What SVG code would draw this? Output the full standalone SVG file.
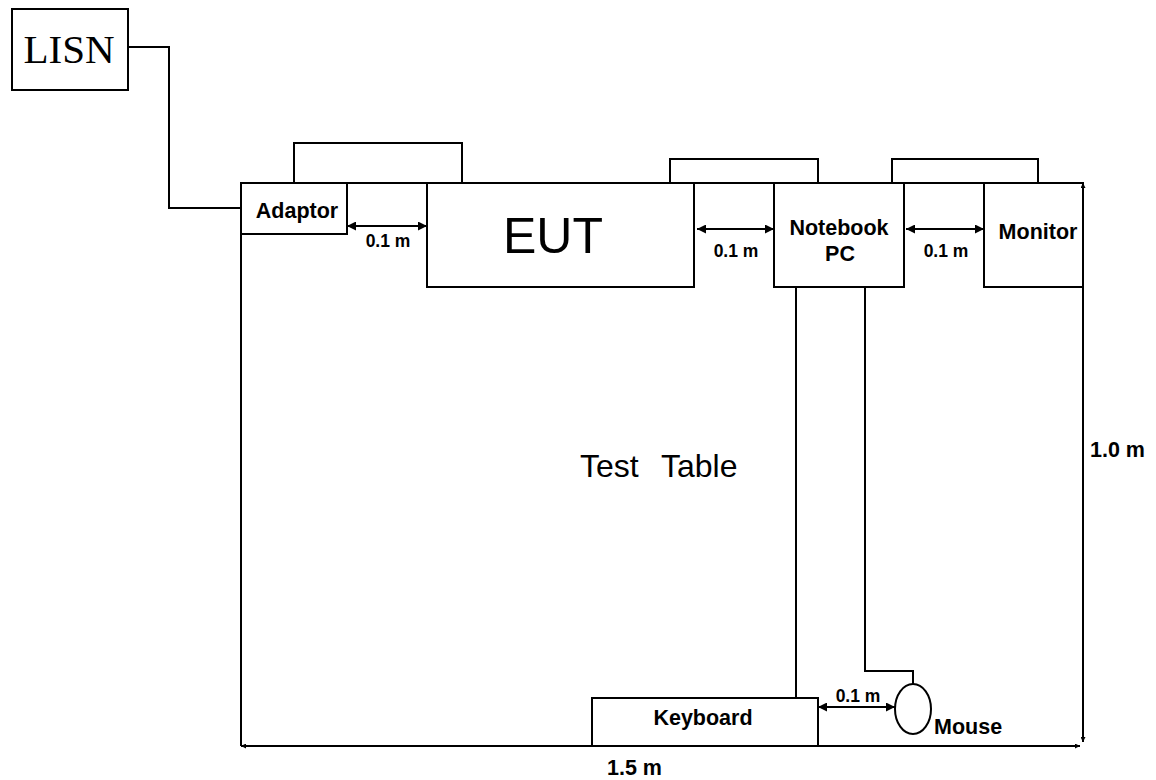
<svg xmlns="http://www.w3.org/2000/svg" width="1156" height="780" viewBox="0 0 1156 780">
<defs>
<marker id="ah" viewBox="0 0 10 10" refX="10" refY="5" markerWidth="10" markerHeight="9" markerUnits="userSpaceOnUse" orient="auto-start-reverse"><path d="M0,0 L10,5 L0,10 z" fill="#000"/></marker>
<marker id="sm" viewBox="0 0 10 10" refX="10" refY="5" markerWidth="5" markerHeight="5" markerUnits="userSpaceOnUse" orient="auto-start-reverse"><path d="M0,0 L10,5 L0,10 z" fill="#000"/></marker>
<style>
.box{fill:#fff;stroke:#000;stroke-width:2}
.ln{fill:none;stroke:#000;stroke-width:2}
.thin{fill:none;stroke:#000;stroke-width:1.8}
.t{font-family:"Liberation Sans",Arial,sans-serif;font-weight:bold;fill:#000}
.s{font-size:21.5px}
.d{font-size:17.5px}
</style>
</defs>
<g id="table">
<path class="ln" d="M241,183 H1083 M241,183 V746"/>
<text class="t" x="580" y="477" style="font-size:32px;font-weight:normal" word-spacing="14">Test Table</text>
</g>
<g id="cables">
<path class="ln" d="M128,47 H169 V208 H241"/>
<path class="ln" d="M294,183 V143 H462 V183"/>
<path class="ln" d="M670,183 V159 H818 V183"/>
<path class="ln" d="M892,183 V159 H1038 V183"/>
<path class="ln" d="M796,287 V698"/>
<path class="ln" d="M865,287 V671 H913 V684"/>
</g>
<g id="lisn">
<rect class="box" x="12" y="9" width="116" height="81"/>
<text x="69" y="63" text-anchor="middle" style="font-family:'Liberation Serif','Times New Roman',serif;font-size:41px;fill:#000">LISN</text>
</g>
<g id="adaptor">
<rect class="box" x="241" y="183" width="106" height="51"/>
<text class="t s" x="297" y="218" text-anchor="middle">Adaptor</text>
</g>
<g id="eut">
<rect class="box" x="427" y="183" width="267" height="104"/>
<text x="553" y="253" text-anchor="middle" style="font-family:'Liberation Sans',Arial,sans-serif;font-size:50px;fill:#000">EUT</text>
</g>
<g id="notebook">
<rect class="box" x="774" y="183" width="130" height="104"/>
<text class="t s" x="839" y="235" text-anchor="middle">Notebook</text>
<text class="t s" x="840" y="261" text-anchor="middle">PC</text>
</g>
<g id="monitor">
<rect class="box" x="984" y="183" width="99" height="104"/>
<text class="t s" x="1038" y="239" text-anchor="middle">Monitor</text>
</g>
<g id="keyboard">
<rect class="box" x="592" y="698" width="226" height="48"/>
<text class="t s" x="703" y="725" text-anchor="middle">Keyboard</text>
</g>
<g id="mouse">
<ellipse class="ln" cx="913" cy="709" rx="18" ry="25"/>
<text class="t s" x="934" y="734">Mouse</text>
</g>
<g id="dimensions">
<line class="thin" x1="347" y1="226" x2="427" y2="226" marker-start="url(#ah)" marker-end="url(#ah)"/>
<text class="t d" x="388" y="247" text-anchor="middle">0.1 m</text>
<line class="thin" x1="697" y1="229" x2="774" y2="229" marker-start="url(#ah)" marker-end="url(#ah)"/>
<text class="t d" x="736" y="257" text-anchor="middle">0.1 m</text>
<line class="thin" x1="906" y1="229" x2="984" y2="229" marker-start="url(#ah)" marker-end="url(#ah)"/>
<text class="t d" x="946" y="257" text-anchor="middle">0.1 m</text>
<line class="thin" x1="818" y1="707" x2="895" y2="707" marker-start="url(#ah)" marker-end="url(#ah)"/>
<text class="t d" x="858" y="702" text-anchor="middle">0.1 m</text>
<line class="ln" x1="241" y1="746" x2="1080" y2="746" marker-start="url(#sm)" marker-end="url(#sm)"/>
<text class="t s" x="607" y="775">1.5 m</text>
<line class="ln" x1="1083" y1="183" x2="1083" y2="742" marker-start="url(#sm)" marker-end="url(#sm)"/>
<text class="t s" x="1090" y="457">1.0 m</text>
</g>
</svg>
